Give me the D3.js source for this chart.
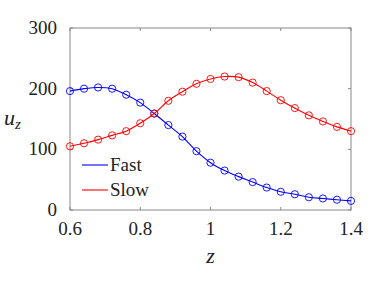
<!DOCTYPE html>
<html>
<head>
<meta charset="utf-8">
<script src="https://cdn.jsdelivr.net/npm/d3@7"></script>
<style>
  body { margin: 0; background: #fff; }
  svg text, svg tspan { font-family: "Liberation Serif", "Times New Roman", serif !important; }
</style>
</head>
<body>
<script>
// data
var zValues = [0.6, 0.64, 0.68, 0.72, 0.76, 0.8, 0.84, 0.88, 0.92, 0.96, 1.0,
               1.04, 1.08, 1.12, 1.16, 1.2, 1.24, 1.28, 1.32, 1.36, 1.4];
var fastValues = [196, 200, 202, 200, 190, 177, 159, 140, 121, 97, 78,
                  65, 55, 46, 37, 30, 26, 21, 19, 17, 15];
var slowValues = [105, 110, 116, 123, 130, 143, 159, 180, 195, 208, 216,
                  220, 219, 210, 196, 181, 168, 156, 146, 137, 130];
var xTicks = [0.6, 0.8, 1, 1.2, 1.4];
var yTicks = [0, 100, 200, 300];
var seriesNames = ["Fast", "Slow"];
var seriesColors = ["#0000ff", "#ff0000"];

var FONT = "Liberation Serif";
var W = 374, H = 281;
var margin = {top: 28, right: 23, bottom: 71, left: 70};
var width = W - margin.left - margin.right;
var height = H - margin.top - margin.bottom;

var svg = d3.select("body").append("svg")
  .attr("width", W)
  .attr("height", H);

var g = svg.append("g")
  .attr("transform", "translate(" + margin.left + "," + margin.top + ")");

var x = d3.scaleLinear().domain([0.6, 1.4]).range([0, width]);
var y = d3.scaleLinear().domain([0, 300]).range([height, 0]);

// box
g.append("rect")
  .attr("width", width)
  .attr("height", height)
  .attr("fill", "none")
  .attr("stroke", "#888")
  .attr("stroke-width", 1);

// inward ticks on all four sides
var tickLen = 3;
xTicks.forEach(function(t) {
  g.append("line").attr("x1", x(t)).attr("x2", x(t))
    .attr("y1", height).attr("y2", height - tickLen).attr("stroke", "#888");
  g.append("line").attr("x1", x(t)).attr("x2", x(t))
    .attr("y1", 0).attr("y2", tickLen).attr("stroke", "#888");
});
yTicks.forEach(function(t) {
  g.append("line").attr("x1", 0).attr("x2", tickLen)
    .attr("y1", y(t)).attr("y2", y(t)).attr("stroke", "#888");
  g.append("line").attr("x1", width).attr("x2", width - tickLen)
    .attr("y1", y(t)).attr("y2", y(t)).attr("stroke", "#888");
});

// tick labels
g.selectAll(".xlab")
  .data(xTicks)
  .enter()
  .append("text")
    .attr("x", function(d) { return x(d); })
    .attr("y", height + 25)
    .attr("text-anchor", "middle")
    .attr("font-family", FONT)
    .attr("font-size", 19)
    .attr("fill", "#222")
    .text(function(d) { return d3.format("")(d); });

g.selectAll(".ylab")
  .data(yTicks)
  .enter()
  .append("text")
    .attr("x", -13)
    .attr("y", function(d) { return y(d) + 6; })
    .attr("text-anchor", "end")
    .attr("font-family", FONT)
    .attr("font-size", 19)
    .attr("fill", "#222")
    .text(function(d) { return d; });

// axis titles
svg.append("text")
  .attr("x", margin.left + x(1))
  .attr("y", 263)
  .attr("text-anchor", "middle")
  .attr("font-family", FONT)
  .attr("font-size", 22)
  .attr("font-style", "italic")
  .attr("fill", "#222")
  .text("z");

var ylab = svg.append("text")
  .attr("x", 4)
  .attr("y", 125)
  .attr("font-family", FONT)
  .attr("font-size", 22)
  .attr("font-style", "italic")
  .attr("fill", "#222");
ylab.append("tspan").text("u");
ylab.append("tspan").attr("dy", 4).attr("font-size", 15).text("z");

// series
var allSeries = [fastValues, slowValues];
var line = d3.line()
  .x(function(d, i) { return x(zValues[i]); })
  .y(function(d) { return y(d); })
  .curve(d3.curveCatmullRom);

allSeries.forEach(function(vals, k) {
  g.append("path")
    .datum(vals)
    .attr("d", line)
    .attr("fill", "none")
    .attr("stroke", seriesColors[k])
    .attr("stroke-width", 1.1);

  g.selectAll(".m" + k)
    .data(vals)
    .enter()
    .append("circle")
      .attr("cx", function(d, i) { return x(zValues[i]); })
      .attr("cy", function(d) { return y(d); })
      .attr("r", 3.6)
      .attr("fill", "none")
      .attr("stroke", seriesColors[k])
      .attr("stroke-width", 0.9);
});

// legend
var legend = g.append("g");
seriesNames.forEach(function(name, i) {
  var ly = 137 + i * 25;
  legend.append("line")
    .attr("x1", 12).attr("x2", 38)
    .attr("y1", ly).attr("y2", ly)
    .attr("stroke", seriesColors[i])
    .attr("stroke-width", 1.1);
  legend.append("text")
    .attr("x", 40)
    .attr("y", ly + 6)
    .attr("font-family", FONT)
    .attr("font-size", 19)
    .attr("fill", "#222")
    .text(name);
});
</script>
</body>
</html>
